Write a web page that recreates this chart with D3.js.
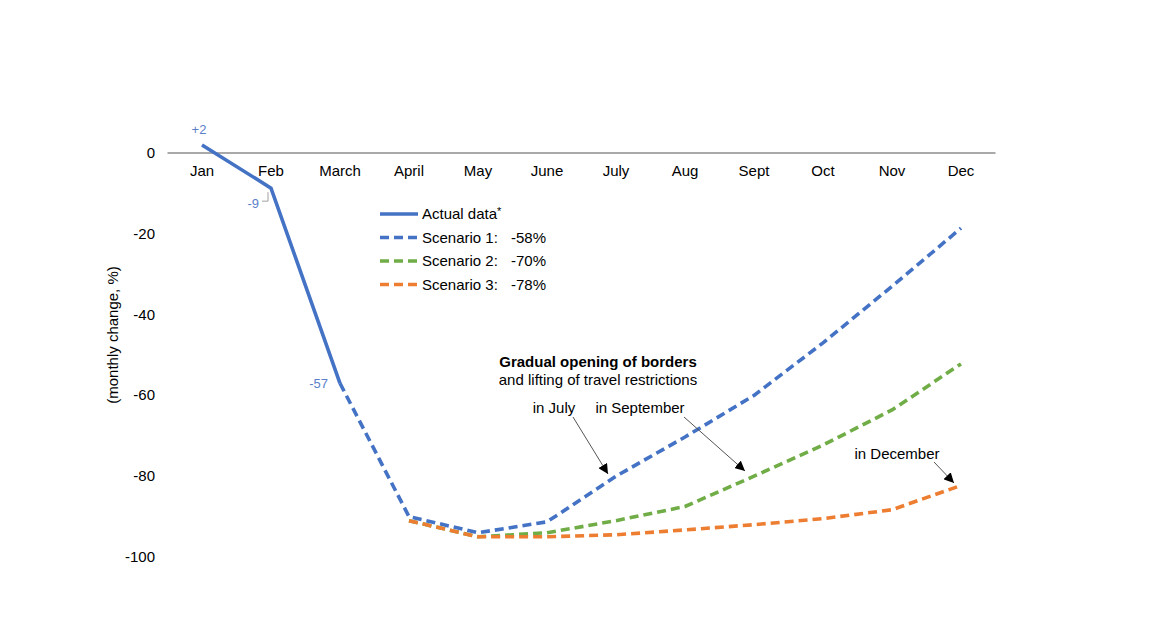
<!DOCTYPE html>
<html><head><meta charset="utf-8">
<script src="https://cdn.jsdelivr.net/npm/d3@7"></script>
<style>
body{margin:0;background:#fff;}
text{font-family:"Liberation Sans",Arial,sans-serif;}
</style></head>
<body><svg id="c" width="1152" height="640"></svg>
<script>
const months = ["Jan","Feb","March","April","May","June","July","Aug","Sept","Oct","Nov","Dec"];
const actual = [2, -8.7, -57];
const scenario1 = [null,null,-57,-90,-94,-91.3,-80,-70.3,-60,-47,-33,-18.6];
const scenario2 = [null,null,null,-91,-95,-94,-91,-87.5,-80,-72.3,-63.6,-52.2];
const scenario3 = [null,null,null,-91,-95,-95,-94.5,-93.3,-92,-90.5,-88.3,-82.3];
const yTicks = [0,-20,-40,-60,-80,-100];
const dataLabels = ["+2","-9","-57"];
const legendItems = [
  {name:"Actual data", star:true, value:"", color:"#4472C4", dash:null},
  {name:"Scenario 1:", value:"-58%", color:"#4472C4", dash:"9,5"},
  {name:"Scenario 2:", value:"-70%", color:"#70AD47", dash:"9,5"},
  {name:"Scenario 3:", value:"-78%", color:"#ED7D31", dash:"9,5"}
];

const svg = d3.select("#c");
const x = d3.scaleBand().domain(months).range([167.5,995.5]);
const y = d3.scaleLinear().domain([-100,0]).range([557,153]);
const cx = m => x(m) + x.bandwidth()/2;
const fs = 15;

// y tick labels
svg.append("g").selectAll("text").data(yTicks).join("text")
  .attr("x",155).attr("y",d=>y(d)+5).attr("text-anchor","end")
  .attr("font-size",fs).attr("fill","#000").text(d=>d);

// y axis title
svg.append("text").attr("transform",`translate(118,335) rotate(-90)`)
  .attr("text-anchor","middle").attr("font-size",fs).text("(monthly change, %)");

// zero axis line
svg.append("line").attr("x1",x.range()[0]).attr("x2",x.range()[1])
  .attr("y1",y(0)).attr("y2",y(0)).attr("stroke","#8c8c8c").attr("stroke-width",1.3);

// x labels
svg.append("g").selectAll("text").data(months).join("text")
  .attr("x",d=>cx(d)).attr("y",y(0)+23).attr("text-anchor","middle")
  .attr("font-size",fs).text(d=>d);

const line = d3.line().defined(d=>d.v!==null).x(d=>cx(d.m)).y(d=>y(d.v));
function series(arr){ return arr.map((v,i)=>({m:months[i],v:v})); }

const sw = 3.6;
svg.append("path").datum(series(scenario2)).attr("d",line).attr("fill","none")
  .attr("stroke","#70AD47").attr("stroke-width",sw).attr("stroke-dasharray","9,5");
svg.append("path").datum(series(scenario3)).attr("d",line).attr("fill","none")
  .attr("stroke","#ED7D31").attr("stroke-width",sw).attr("stroke-dasharray","9,5");
svg.append("path").datum(series(scenario1)).attr("d",line).attr("fill","none")
  .attr("stroke","#4472C4").attr("stroke-width",sw).attr("stroke-dasharray","9,5");
svg.append("path").datum(series(actual)).attr("d",line).attr("fill","none")
  .attr("stroke","#4472C4").attr("stroke-width",sw);

// data labels
const lblColor = "#5B7FC9";
svg.append("text").attr("x",cx("Jan")-3).attr("y",y(actual[0])-11).attr("text-anchor","middle")
  .attr("font-size",13).attr("fill",lblColor).text(dataLabels[0]);
svg.append("text").attr("x",cx("Feb")-12).attr("y",y(actual[1])+20).attr("text-anchor","end")
  .attr("font-size",13).attr("fill",lblColor).text(dataLabels[1]);
svg.append("path").attr("d",`M${cx("Feb")-9},${y(actual[1])+13} H${cx("Feb")-3} V${y(actual[1])+4}`)
  .attr("fill","none").attr("stroke","#a0a0a0").attr("stroke-width",1);
svg.append("text").attr("x",cx("March")-12).attr("y",y(actual[2])+5).attr("text-anchor","end")
  .attr("font-size",13).attr("fill",lblColor).text(dataLabels[2]);

// legend
const lg = svg.append("g").attr("transform","translate(380,214)");
legendItems.forEach((it,i)=>{
  const g = lg.append("g").attr("transform",`translate(0,${i*23.5})`);
  g.append("line").attr("x1",0).attr("x2",38).attr("y1",0).attr("y2",0)
    .attr("stroke",it.color).attr("stroke-width",3.6)
    .attr("stroke-dasharray",it.dash);
  const t = g.append("text").attr("x",42).attr("y",5).attr("font-size",fs);
  t.append("tspan").text(it.name);
  if(it.star) t.append("tspan").attr("dy",-4).attr("font-size",11).text("*");
  if(it.value) g.append("text").attr("x",131).attr("y",5).attr("font-size",fs).text(it.value);
});

// annotations
svg.append("defs").append("marker").attr("id","ah").attr("viewBox","0 0 10 10")
  .attr("refX",10).attr("refY",5).attr("markerWidth",10).attr("markerHeight",10)
  .attr("markerUnits","userSpaceOnUse").attr("orient","auto")
  .append("path").attr("d","M0,0 L10,5 L0,10 z").attr("fill","#000");

svg.append("text").attr("x",598).attr("y",367).attr("text-anchor","middle")
  .attr("font-size",fs).attr("font-weight","bold").text("Gradual opening of borders");
svg.append("text").attr("x",598).attr("y",385).attr("text-anchor","middle")
  .attr("font-size",fs).text("and lifting of travel restrictions");
svg.append("text").attr("x",554).attr("y",413).attr("text-anchor","middle")
  .attr("font-size",fs).text("in July");
svg.append("text").attr("x",640).attr("y",413).attr("text-anchor","middle")
  .attr("font-size",fs).text("in September");
svg.append("text").attr("x",897).attr("y",459).attr("text-anchor","middle")
  .attr("font-size",fs).text("in December");

function arrow(x1,y1,x2,y2){
  svg.append("line").attr("x1",x1).attr("y1",y1).attr("x2",x2).attr("y2",y2)
    .attr("stroke","#555").attr("stroke-width",1).attr("marker-end","url(#ah)");
}
arrow(573,417,608,474);
arrow(684,417,745,471);
arrow(934,462,954,483);
</script></body></html>
